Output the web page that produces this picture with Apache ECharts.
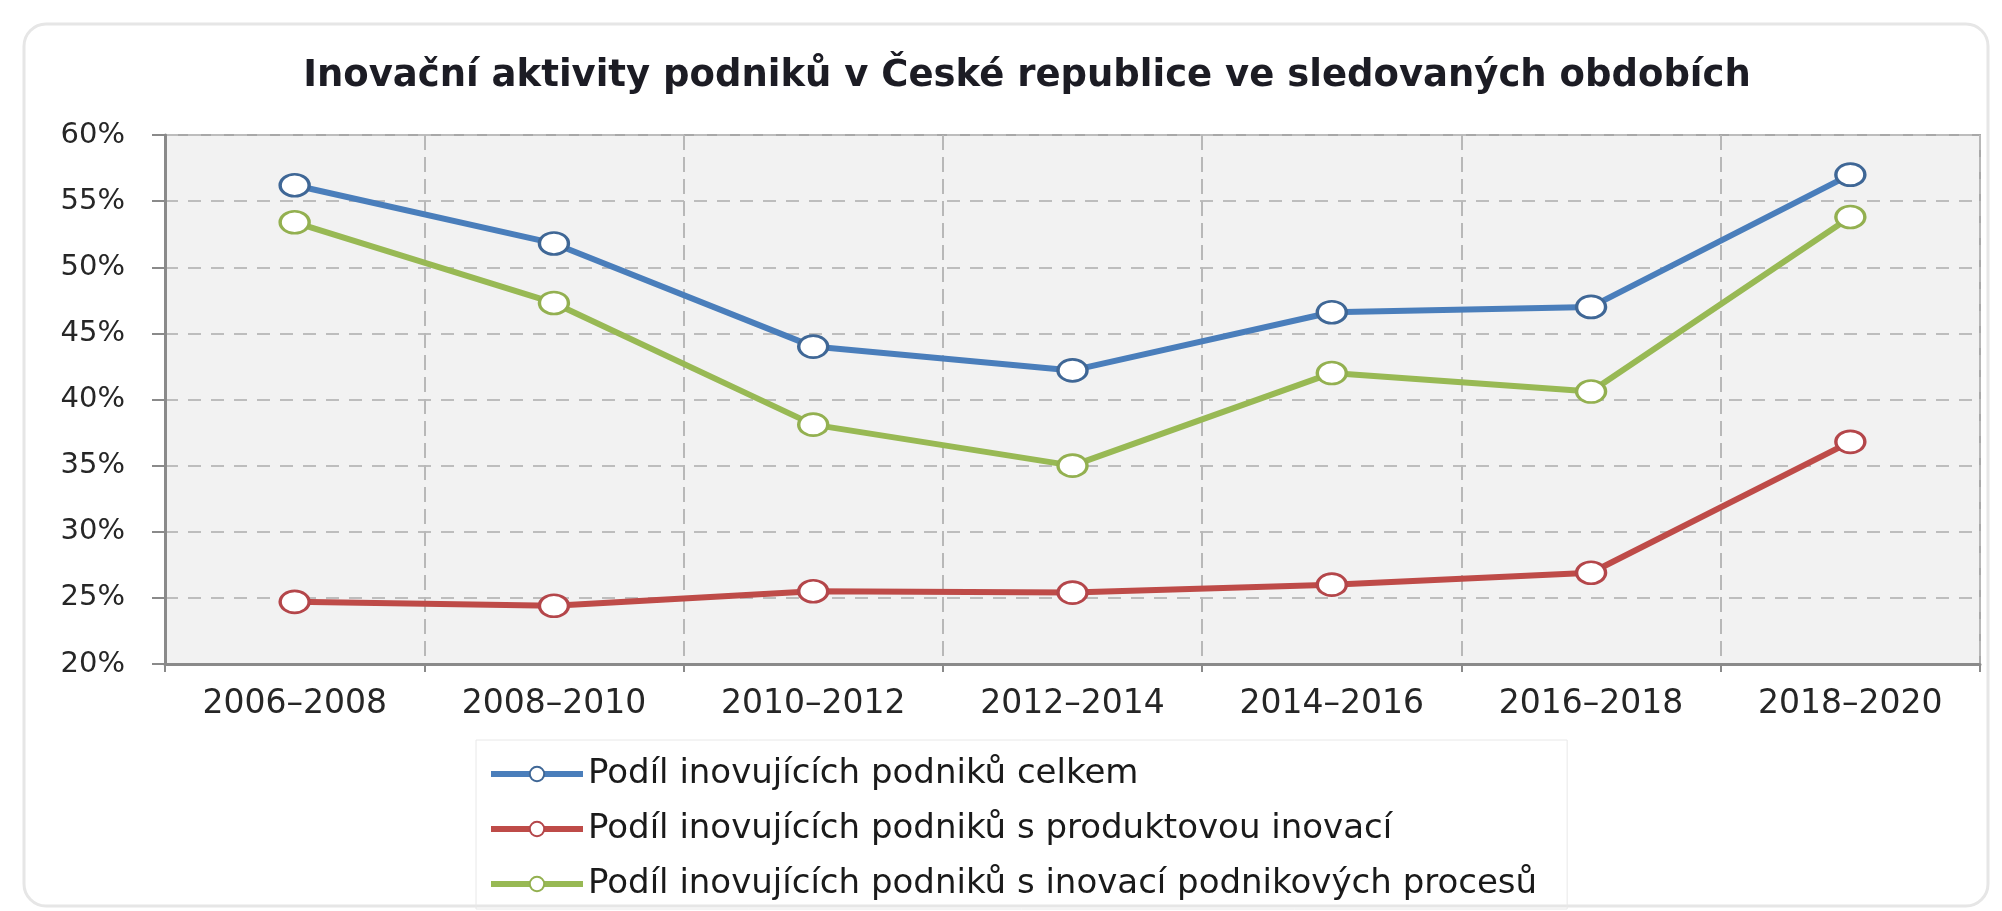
<!DOCTYPE html>
<html>
<head>
<meta charset="utf-8">
<title>Inovační aktivity podniků</title>
<script src="https://cdn.jsdelivr.net/npm/echarts@6/dist/echarts.min.js"></script>
<style>
  html, body { margin: 0; padding: 0; background: #fff; }
  #chart { width: 2002px; height: 911px; }
</style>
</head>
<body>
<div id="chart"></div>
<script>
const periods = ["2006–2008", "2008–2010", "2010–2012", "2012–2014", "2014–2016", "2016–2018", "2018–2020"];
const celkem = [56.2, 51.8, 44.0, 42.2, 46.6, 47.0, 57.0];
const produktova = [24.7, 24.4, 25.5, 25.4, 26.0, 26.9, 36.8];
const procesni = [53.4, 47.3, 38.1, 35.0, 42.0, 40.6, 53.8];
const seriesNames = [
  "Podíl inovujících podniků celkem",
  "Podíl inovujících podniků s produktovou inovací",
  "Podíl inovujících podniků s inovací podnikových procesů"
];

const FONT = "DejaVu Sans";
// ellipse marker (the reference picture is stretched sideways)
const ELLIPSE = "path://M0,10a10,10 0 1,0 20,0a10,10 0 1,0 -20,0";

const lineSeries = (name, data, color, border) => ({
  name: name,
  type: "line",
  data: data,
  symbol: ELLIPSE,
  symbolSize: [29, 22],
  lineStyle: { color: color, width: 6 },
  itemStyle: { color: "#ffffff", borderColor: border, borderWidth: 3 },
  emphasis: { disabled: true },
  z: 3
});

const chart = echarts.init(document.getElementById("chart"));
chart.setOption({
  animation: false,
  graphic: [
    {
      type: "rect",
      z: -10,
      shape: { x: 24, y: 24, width: 1964, height: 882, r: 22 },
      style: { fill: "#ffffff", stroke: "#e6e6e6", lineWidth: 3 }
    }
  ],
  title: {
    text: "Inovační aktivity podniků v České republice ve sledovaných obdobích",
    left: 1022,
    top: 53,
    textAlign: "center",
    textStyle: { fontFamily: FONT, fontWeight: "bold", fontSize: 37, color: "#1c1c24" }
  },
  grid: {
    left: 165,
    right: 22,
    top: 135,
    bottom: 247,
    show: true,
    backgroundColor: "#f2f2f2",
    borderColor: "#a8a8a8",
    borderWidth: 2
  },
  xAxis: {
    type: "category",
    data: periods,
    boundaryGap: true,
    axisLine: { lineStyle: { color: "#8a8a8a", width: 3 } },
    axisTick: { show: true, length: 8, lineStyle: { color: "#8a8a8a", width: 2 } },
    axisLabel: { interval: 0, margin: 24, fontFamily: FONT, fontSize: 33, color: "#262626" },
    splitLine: { show: true, interval: 0, lineStyle: { color: "#b8b8b8", width: 2, type: [15, 7] } }
  },
  yAxis: {
    type: "value",
    min: 20,
    max: 60,
    interval: 5,
    axisLine: { show: true, lineStyle: { color: "#8a8a8a", width: 3 } },
    axisTick: { show: true, length: 13, lineStyle: { color: "#8a8a8a", width: 2 } },
    axisLabel: { formatter: "{value}%", margin: 40, fontFamily: FONT, fontSize: 29, color: "#262626" },
    splitLine: { show: true, lineStyle: { color: "#bdbdbd", width: 2, type: [13, 10] } }
  },
  legend: {
    orient: "vertical",
    left: 476,
    top: 740,
    padding: [17, 30, 8, 12],
    borderColor: "#e8e8e8",
    borderWidth: 1,
    itemWidth: 92,
    itemHeight: 18,
    itemGap: 21,
    selectedMode: false,
    lineStyle: { width: 6 },
    itemStyle: { borderWidth: 2 },
    textStyle: { fontFamily: FONT, fontSize: 34, lineHeight: 34, color: "#1a1a1a" },
    data: seriesNames
  },
  series: [
    lineSeries(seriesNames[0], celkem, "#4a7ebb", "#3f6796"),
    lineSeries(seriesNames[1], produktova, "#be4b48", "#b4464a"),
    lineSeries(seriesNames[2], procesni, "#98b954", "#93b050")
  ]
});
</script>
</body>
</html>
